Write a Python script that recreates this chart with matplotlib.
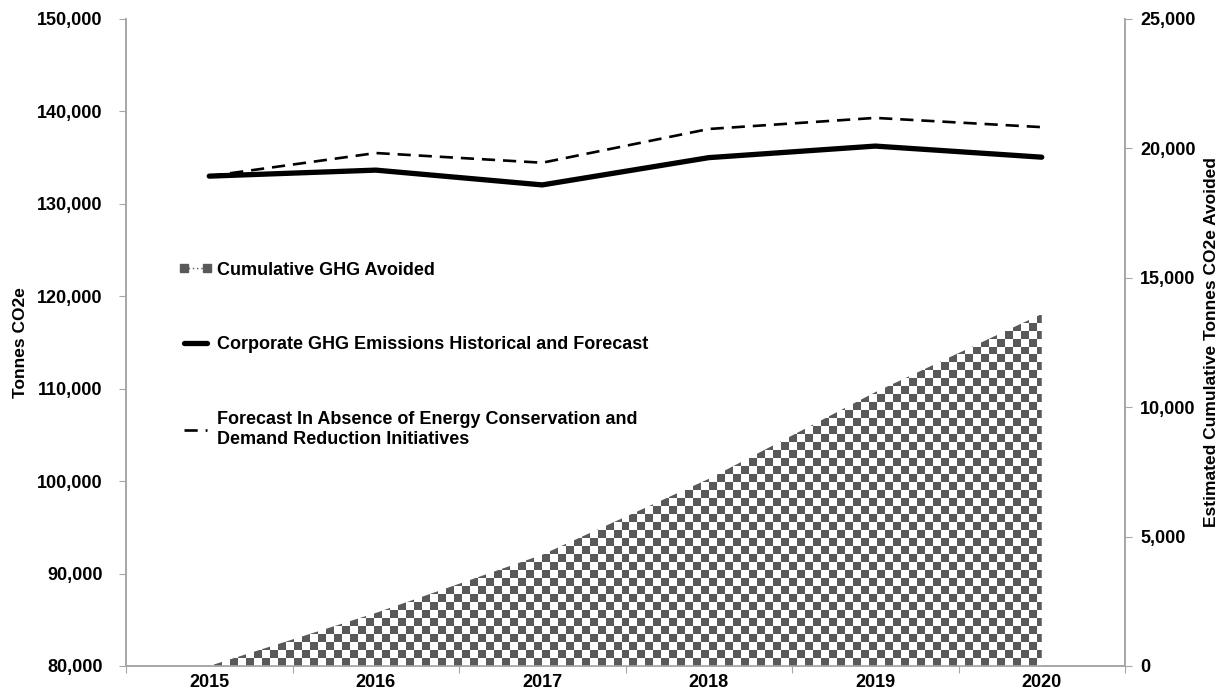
import numpy as np
import matplotlib
matplotlib.use('Agg')
import matplotlib.pyplot as plt
from matplotlib.lines import Line2D
from matplotlib.ticker import FuncFormatter, FixedLocator

plt.rcParams['font.family'] = ['Liberation Sans', 'DejaVu Sans']
plt.rcParams['font.weight'] = 'bold'

years = ['2015', '2016', '2017', '2018', '2019', '2020']
emissions = [133000, 133650, 132050, 135000, 136250, 135050]
no_initiatives = [133000, 135500, 134450, 138100, 139300, 138300]
cumulative_avoided = [0, 2050, 4300, 7230, 10580, 13600]

label_area = 'Cumulative GHG Avoided'
label_solid = 'Corporate GHG Emissions Historical and Forecast'
label_dash = 'Forecast In Absence of Energy Conservation and\nDemand Reduction Initiatives'

spine_grey = '#a6a6a6'
check_grey = '#595959'
fs = 13

fig = plt.figure(figsize=(12.23, 6.96), dpi=100)
ax = fig.add_axes([126 / 1223, 30 / 696, 999 / 1223, 647 / 696])
ax2 = ax.twinx()

x = np.arange(len(years))

# emissions lines on the left axis
ax.plot(x, emissions, color='black', linewidth=3.8, solid_capstyle='round', zorder=3)
ax.plot(x, no_initiatives, color='black', linewidth=1.9, dashes=(5, 3), zorder=3)

# cumulative avoided area on the right axis, filled with a checker texture
area = ax2.fill_between(x, 0, cumulative_avoided, facecolor='none', edgecolor='none')
ny, nx = 81, 125
checker = (np.indices((ny, nx)).sum(axis=0) % 2).astype(float)
img = ax2.imshow(checker, cmap=matplotlib.colors.ListedColormap(['white', check_grey]),
                 extent=[-0.5, 5.5, 0, 25000], aspect='auto', interpolation='nearest',
                 origin='lower', zorder=1)
img.set_clip_path(area.get_paths()[0], ax2.transData)

ax.set_xlim(-0.5, 5.5)
ax.set_ylim(80000, 150000)
ax2.set_ylim(0, 25000)
ax.set_yticks(np.arange(80000, 150001, 10000))
ax2.set_yticks(np.arange(0, 25001, 5000))

fmt = FuncFormatter(lambda v, p: f'{v:,.0f}')
ax.yaxis.set_major_formatter(fmt)
ax2.yaxis.set_major_formatter(fmt)

# category boundaries as tick marks, year labels centred between them
ax.xaxis.set_major_locator(FixedLocator(np.arange(-0.5, 6, 1)))
ax.xaxis.set_minor_locator(FixedLocator(x))
ax.set_xticklabels([], minor=False)
ax.set_xticklabels(years, minor=True)
ax.tick_params(axis='x', which='major', length=5, color=spine_grey, direction='out')
ax.tick_params(axis='x', which='minor', length=0, labelsize=fs, pad=6)

ax.tick_params(axis='y', length=5, color=spine_grey, labelsize=fs, pad=12)
ax2.tick_params(axis='y', length=5, color=spine_grey, labelsize=fs, pad=6)

for a in (ax, ax2):
    a.spines['top'].set_visible(False)
    for side in ('left', 'right', 'bottom'):
        a.spines[side].set_color(spine_grey)
        a.spines[side].set_linewidth(1.2)

ax.set_ylabel('Tonnes CO2e', fontsize=12.5, fontweight='bold', labelpad=6)
ax2.set_ylabel('Estimated Cumulative Tonnes CO2e Avoided', fontsize=12.5,
               fontweight='bold', labelpad=6)

handles = [
    Line2D([], [], color=check_grey, marker='s', markersize=6, linestyle=(0, (1, 2)),
           linewidth=1),
    Line2D([], [], color='black', linewidth=3.8, solid_capstyle='round'),
    Line2D([], [], color='black', linewidth=1.9, dashes=(5, 3)),
]
leg = ax2.legend(handles, [label_area, label_solid, label_dash],
                 loc='upper left', bbox_to_anchor=(0.036, 0.65), frameon=False,
                 labelspacing=3.2, handlelength=1.9, handletextpad=0.25,
                 numpoints=2, prop={'weight': 'bold', 'size': fs})

fig.savefig('out.png', dpi=100)
